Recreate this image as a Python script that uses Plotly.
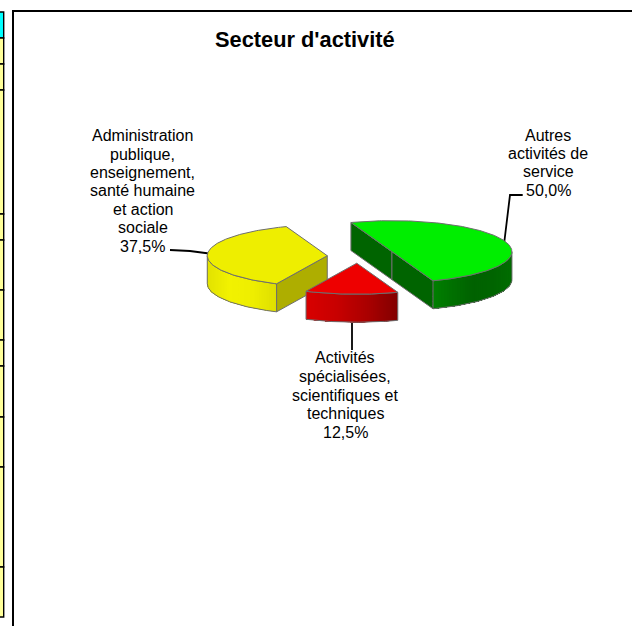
import math

import plotly.graph_objects as go

# chart data
secteurs = ['Autres activités de service',
            'Activités spécialisées, scientifiques et techniques',
            'Administration publique, enseignement, santé humaine et action sociale']
parts = [50.0, 12.5, 37.5]
label_lines = [
    ['Autres', 'activités de', 'service'],
    ['Activités', 'spécialisées,', 'scientifiques et', 'techniques'],
    ['Administration', 'publique,', 'enseignement,', 'santé humaine', 'et action', 'sociale'],
]
titre = "Secteur d'activité"

# spreadsheet cells cut off on the left of the screenshot
cell_rows = [12, 38, 64, 90, 214, 240, 290, 340, 366, 417, 467, 567, 617]

# pie geometry, in screen pixels (y goes down)
W, H = 632, 626
CX, CY = 360.6, 254.6
RX, RY = 120, 31
DEPTH = 28
EXPLODE = 0.278
START_ANGLE = -110
# small corrections, the original has some perspective
nudges = [(0, 0), (-2.4, 0), (0, 1.5)]

top_colors = ['#00EE00', '#EE0000', '#EEEE00']
cut_colors = ['#006400', '#8A0000', '#AEAE00']
wall_stops = [
    [(0, 128, 0), (0, 112, 0), (0, 98, 0), (0, 100, 0), (0, 110, 0)],
    [(216, 0, 0), (200, 0, 0), (170, 0, 0), (130, 0, 0)],
    [(226, 226, 0), (242, 242, 0), (238, 238, 0), (222, 222, 0)],
]
OUTLINE = '#6e6e6e'
FONT = 'Liberation Sans, Arial, sans-serif'


def ramp(stops, f):
    pos = f * (len(stops) - 1)
    i = min(int(pos), len(stops) - 2)
    t = pos - i
    c = [round(a + (b - a) * t) for a, b in zip(stops[i], stops[i + 1])]
    return f'rgb({c[0]},{c[1]},{c[2]})'


def rim(cx, cy, t, dy=0):
    rad = math.radians(t)
    return cx + RX * math.cos(rad), cy + RY * math.sin(rad) + dy


def poly(fig, pts, fill, line=None, width=1):
    xs = [p[0] for p in pts] + [pts[0][0]]
    ys = [p[1] for p in pts] + [pts[0][1]]
    fig.add_trace(go.Scatter(
        x=xs, y=ys, mode='lines', fill='toself', fillcolor=fill,
        line=dict(color=line or fill, width=width),
        showlegend=False, hoverinfo='skip'
    ))


def add_slice(fig, idx, t0, t1):
    mid = math.radians((t0 + t1) / 2)
    cx = CX + EXPLODE * RX * math.cos(mid) + nudges[idx][0]
    cy = CY + EXPLODE * RY * math.sin(mid) + nudges[idx][1]

    # flat cut faces, only the ones turned to the viewer
    if -math.cos(math.radians(t0)) > 0:
        a = rim(cx, cy, t0)
        poly(fig, [(cx, cy), a, (a[0], a[1] + DEPTH), (cx, cy + DEPTH)], cut_colors[idx], OUTLINE)
    if math.cos(math.radians(t1)) > 0:
        a = rim(cx, cy, t1)
        poly(fig, [(cx, cy), a, (a[0], a[1] + DEPTH), (cx, cy + DEPTH)], cut_colors[idx], OUTLINE)

    # outer wall, front half of the rim only. Each shade is painted from its
    # own angle to the far end of the wall, so no seams show between shades
    w0, w1 = max(t0, 0), min(t1, 180)
    if w1 > w0:
        n = 48
        ts = [w0 + (w1 - w0) * i / n for i in range(n + 1)]
        x_lo, x_hi = min(rim(cx, cy, w0)[0], rim(cx, cy, w1)[0]), max(rim(cx, cy, w0)[0], rim(cx, cy, w1)[0])
        for i in range(n):
            rest = ts[i:]
            pa, pb = rim(cx, cy, ts[i]), rim(cx, cy, ts[i + 1])
            f = ((pa[0] + pb[0]) / 2 - x_lo) / (x_hi - x_lo)
            pts = [rim(cx, cy, t) for t in rest] + [rim(cx, cy, t, DEPTH) for t in reversed(rest)]
            poly(fig, pts, ramp(wall_stops[idx], f), width=0)
        edge = [rim(cx, cy, t) for t in ts] + [rim(cx, cy, t, DEPTH) for t in reversed(ts)]
        fig.add_trace(go.Scatter(
            x=[p[0] for p in edge] + [edge[0][0]], y=[p[1] for p in edge] + [edge[0][1]],
            mode='lines', line=dict(color=OUTLINE, width=1),
            showlegend=False, hoverinfo='skip'
        ))

    # top face
    n = max(int(t1 - t0), 2)
    top = [(cx, cy)] + [rim(cx, cy, t0 + (t1 - t0) * i / n) for i in range(n + 1)]
    poly(fig, top, top_colors[idx], OUTLINE)


fig = go.Figure()

# leader lines go under the slices
leaders = [
    ([522.7, 510, 504.3], [195, 195, 242]),
    ([352, 352], [323, 350]),
    ([170, 190, 209], [250, 251, 253.5]),
]
for lx, ly in leaders:
    fig.add_trace(go.Scatter(
        x=lx, y=ly, mode='lines', line=dict(color='black', width=1.8),
        showlegend=False, hoverinfo='skip'
    ))

# yellow first, red last so it sits over the yellow cut face
angles = []
t = START_ANGLE
for p in parts:
    angles.append((t, t + p * 3.6))
    t += p * 3.6
for idx in [2, 0, 1]:
    add_slice(fig, idx, *angles[idx])

# labels, one annotation per line because the line pitch is tighter than plotly's
label_pos = [(548, 135, 18.35), (345.2, 357.7, 18.65), (142.5, 135.7, 18.4)]
for lines, p, (lx, ly, pitch) in zip(label_lines, parts, label_pos):
    texts = lines + [f'{p:.1f}%'.replace('.', ',')]
    for i, txt in enumerate(texts):
        fig.add_annotation(
            x=lx, y=ly + i * pitch, text=txt, showarrow=False,
            xanchor='center', yanchor='middle',
            font=dict(family=FONT, size=16, color='black')
        )

fig.add_annotation(
    x=305, y=39, text=titre, showarrow=False, xanchor='center', yanchor='middle',
    font=dict(family=FONT, size=21.8, color='black', weight='bold')
)

# chart frame, cropped by the screenshot on the right and at the bottom
fig.add_shape(type='line', x0=12, x1=W, y0=11, y1=11, line=dict(color='black', width=2))
fig.add_shape(type='line', x0=13, x1=13, y0=10, y1=H, line=dict(color='black', width=2))

# spreadsheet column
for i, (a, b) in enumerate(zip(cell_rows[:-1], cell_rows[1:])):
    fig.add_shape(type='rect', x0=-2, x1=3.7, y0=a, y1=b,
                  fillcolor='#00FFFF' if i == 0 else '#FFFF99',
                  line=dict(color='black', width=1.4))

fig.update_layout(
    width=W, height=H,
    margin=dict(l=0, r=0, t=0, b=0),
    paper_bgcolor='white',
    plot_bgcolor='white',
    showlegend=False,
    xaxis=dict(range=[0, W], visible=False, fixedrange=True),
    yaxis=dict(range=[H, 0], visible=False, fixedrange=True),
)

fig.write_html('out.html', config={'displayModeBar': False},
               post_script="document.body.style.margin='0';")
